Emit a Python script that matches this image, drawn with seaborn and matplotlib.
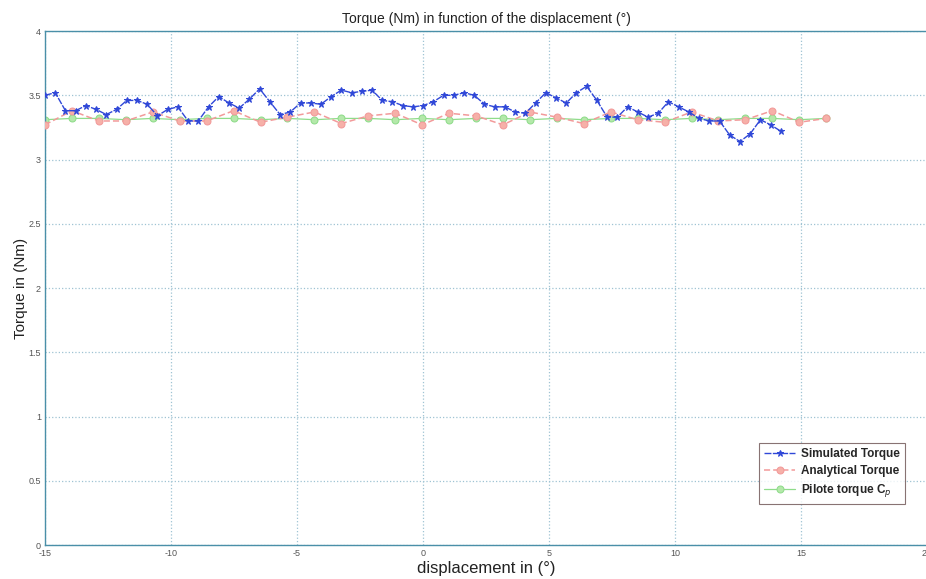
import matplotlib
matplotlib.use('Agg')

import matplotlib.pyplot as plt
import numpy as np
import seaborn as sns
import pandas as pd

# Simulated torque: 73 samples, evenly spaced from -15 to 14.2 deg
sim_x = np.linspace(-15, 14.2, 73)
sim_torque = [3.50,
              3.52, 3.38, 3.38, 3.42, 3.39, 3.35, 3.39, 3.46, 3.46, 3.43,
              3.34, 3.39, 3.41, 3.30, 3.30, 3.41, 3.49, 3.44, 3.40, 3.47,
              3.55, 3.45, 3.35, 3.37, 3.44, 3.44, 3.43, 3.49,
              3.54, 3.52, 3.53, 3.54, 3.46, 3.45, 3.42, 3.41, 3.42, 3.45,
              3.50, 3.50, 3.52, 3.50, 3.43, 3.41, 3.41, 3.37, 3.36, 3.44,
              3.52, 3.48, 3.44, 3.52, 3.57, 3.46, 3.33, 3.33, 3.41,
              3.37, 3.33, 3.36, 3.45, 3.41, 3.37, 3.32, 3.30, 3.30, 3.19,
              3.14, 3.20, 3.31, 3.27, 3.22]

# Analytical and pilote torque: 30 samples from -15 to 16 deg
ana_x = np.linspace(-15, 16, 30)
ana_torque = [3.27, 3.38, 3.30, 3.30, 3.37, 3.30, 3.30, 3.38, 3.29, 3.33,
              3.37, 3.28, 3.34, 3.36, 3.27, 3.36, 3.34, 3.27, 3.37, 3.33,
              3.28, 3.37, 3.31, 3.29, 3.37, 3.30, 3.31, 3.38, 3.29, 3.32]
pilote_torque = [3.31, 3.32, 3.32, 3.31, 3.32, 3.31, 3.32, 3.32, 3.31, 3.32,
                 3.31, 3.32, 3.32, 3.31, 3.32, 3.31, 3.32, 3.32, 3.31, 3.32,
                 3.31, 3.32, 3.32, 3.31, 3.32, 3.31, 3.32, 3.32, 3.31, 3.32]

x_ticks = [-15, -10, -5, 0, 5, 10, 15, 20]
y_ticks = [0, 0.5, 1, 1.5, 2, 2.5, 3, 3.5, 4]

sns.set_style('white')
plt.rcParams['font.family'] = ['Liberation Sans', 'DejaVu Sans']

fig = plt.figure(figsize=(9.26, 5.79), dpi=100)
ax = fig.add_axes([0.0486, 0.0587, 0.9525, 0.8877])

sim = pd.DataFrame({'x': sim_x, 'y': sim_torque})
ana = pd.DataFrame({'x': ana_x, 'y': ana_torque})
pil = pd.DataFrame({'x': ana_x, 'y': pilote_torque})

sns.lineplot(data=pil, x='x', y='y', ax=ax, color='#8fdc8a', linestyle='-',
             linewidth=0.9, marker='o', markersize=5, markerfacecolor='#b4e8aa',
             markeredgecolor='#8fdc8a', label='Pilote torque C$_p$', zorder=2)
sns.lineplot(data=ana, x='x', y='y', ax=ax, color='#f29a9a', dashes=(4, 2),
             linewidth=1.1, marker='o', markersize=5, markerfacecolor='#f6b0a8',
             markeredgecolor='#f29a9a', label='Analytical Torque', zorder=3)
sns.lineplot(data=sim, x='x', y='y', ax=ax, color='#3048d8', dashes=(5, 1),
             linewidth=1.0, marker='*', markersize=4.5, markeredgecolor='#3048d8',
             label='Simulated Torque', zorder=4)

ax.set_xlim(-15, 20)
ax.set_ylim(0, 4)
ax.set_xticks(x_ticks)
ax.set_yticks(y_ticks)
ax.set_xticklabels([str(t) for t in x_ticks])
ax.set_yticklabels(['0', '0.5', '1', '1.5', '2', '2.5', '3', '3.5', '4'])
ax.tick_params(direction='in', length=4, labelsize=6.5, colors='#4a7f96',
               labelcolor='#555555', pad=3)
ax.grid(True, linestyle=':', color='#9fc3d3', linewidth=0.9)
for s in ax.spines.values():
    s.set_color('#4a8fa8')
    s.set_linewidth(1.0)

ax.set_title('Torque (Nm) in function of the displacement (\u00b0)', fontsize=10,
             color='#222222', pad=6)
ax.set_xlabel('displacement in (\u00b0)', fontsize=12, color='#222222', labelpad=2)
ax.set_ylabel('Torque in (Nm)', fontsize=11, color='#222222', labelpad=0)

handles, labels = ax.get_legend_handles_labels()
order = [2, 1, 0]
leg = ax.legend([handles[i] for i in order], [labels[i] for i in order],
                loc='lower right', bbox_to_anchor=(0.982, 0.068), fontsize=8.5,
                frameon=True, fancybox=False, edgecolor='#6a5050',
                borderpad=0.45, labelspacing=0.4, handlelength=2.6,
                handletextpad=0.5)
leg.get_frame().set_linewidth(0.8)
for t in leg.get_texts():
    t.set_fontweight('bold')

fig.savefig('out.png', dpi=100)
plt.close(fig)
